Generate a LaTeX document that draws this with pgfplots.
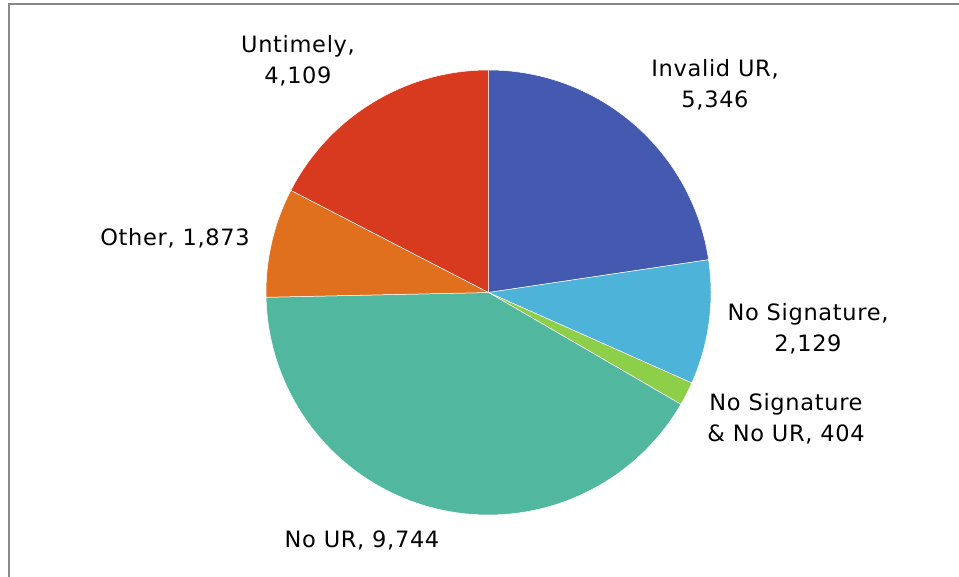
\documentclass[border=0pt]{standalone}
\usepackage{fontspec}
\setmainfont{DejaVu Sans}[LetterSpace=3]
\usepackage{pgfplots}
\pgfplotsset{compat=1.18}
\usepgflibrary{fpu}
\definecolor{cInv}{HTML}{4459B0}
\definecolor{cNoSig}{HTML}{4EB3D8}
\definecolor{cNSNU}{HTML}{8ECF4A}
\definecolor{cNoUR}{HTML}{52B79F}
\definecolor{cOther}{HTML}{E0701E}
\definecolor{cUnt}{HTML}{D83A20}
\definecolor{frame}{HTML}{888888}
\def\cx{488.5}\def\cy{284.5}\def\R{222.5}\def\tot{23605}
\newcommand\slice[3]{%
  \begingroup
  \pgfkeys{/pgf/fpu=true,/pgf/fpu/output format=fixed}%
  \pgfmathparse{90-360*#1/\tot}\xdef\aS{\pgfmathresult}%
  \pgfmathparse{90-360*(#1+#2)/\tot}\xdef\aE{\pgfmathresult}%
  \endgroup
  \addplot[fill=#3, draw=white, line width=0.5pt, domain=\aE:\aS, samples=80]
    ({\cx+\R*cos(x)},{\cy+\R*sin(x)}) -- (axis cs:\cx,\cy) -- cycle;
}
\tikzset{lbl/.style={font=\fontsize{22.5bp}{31bp}\selectfont, align=center, text=black, inner sep=0pt}}
\begin{document}
\begin{tikzpicture}
\useasboundingbox (0,0) rectangle (959bp,577bp);
\begin{axis}[
  width=959bp, height=577bp, scale only axis,
  xmin=0, xmax=959, ymin=0, ymax=577,
  hide axis, clip=false,
]
% cumulative before, value, colour
\slice{0}{5346}{cInv}
\slice{5346}{2129}{cNoSig}
\slice{7475}{404}{cNSNU}
\slice{7879}{9744}{cNoUR}
\slice{17623}{1873}{cOther}
\slice{19496}{4109}{cUnt}
\draw[frame, line width=2bp] (axis cs:9,0) -- (axis cs:9,573) -- (axis cs:959,573);
\node[lbl] at (axis cs:715,492) {Invalid UR,\\5,346};
\node[lbl] at (axis cs:808,248) {No Signature,\\2,129};
\node[lbl] at (axis cs:786,158) {No Signature\\\& No UR, 404};
\node[lbl] at (axis cs:362,37) {No UR, 9,744};
\node[lbl] at (axis cs:175,339) {Other, 1,873};
\node[lbl] at (axis cs:298,516) {Untimely,\\4,109};
\end{axis}
\end{tikzpicture}
\end{document}
